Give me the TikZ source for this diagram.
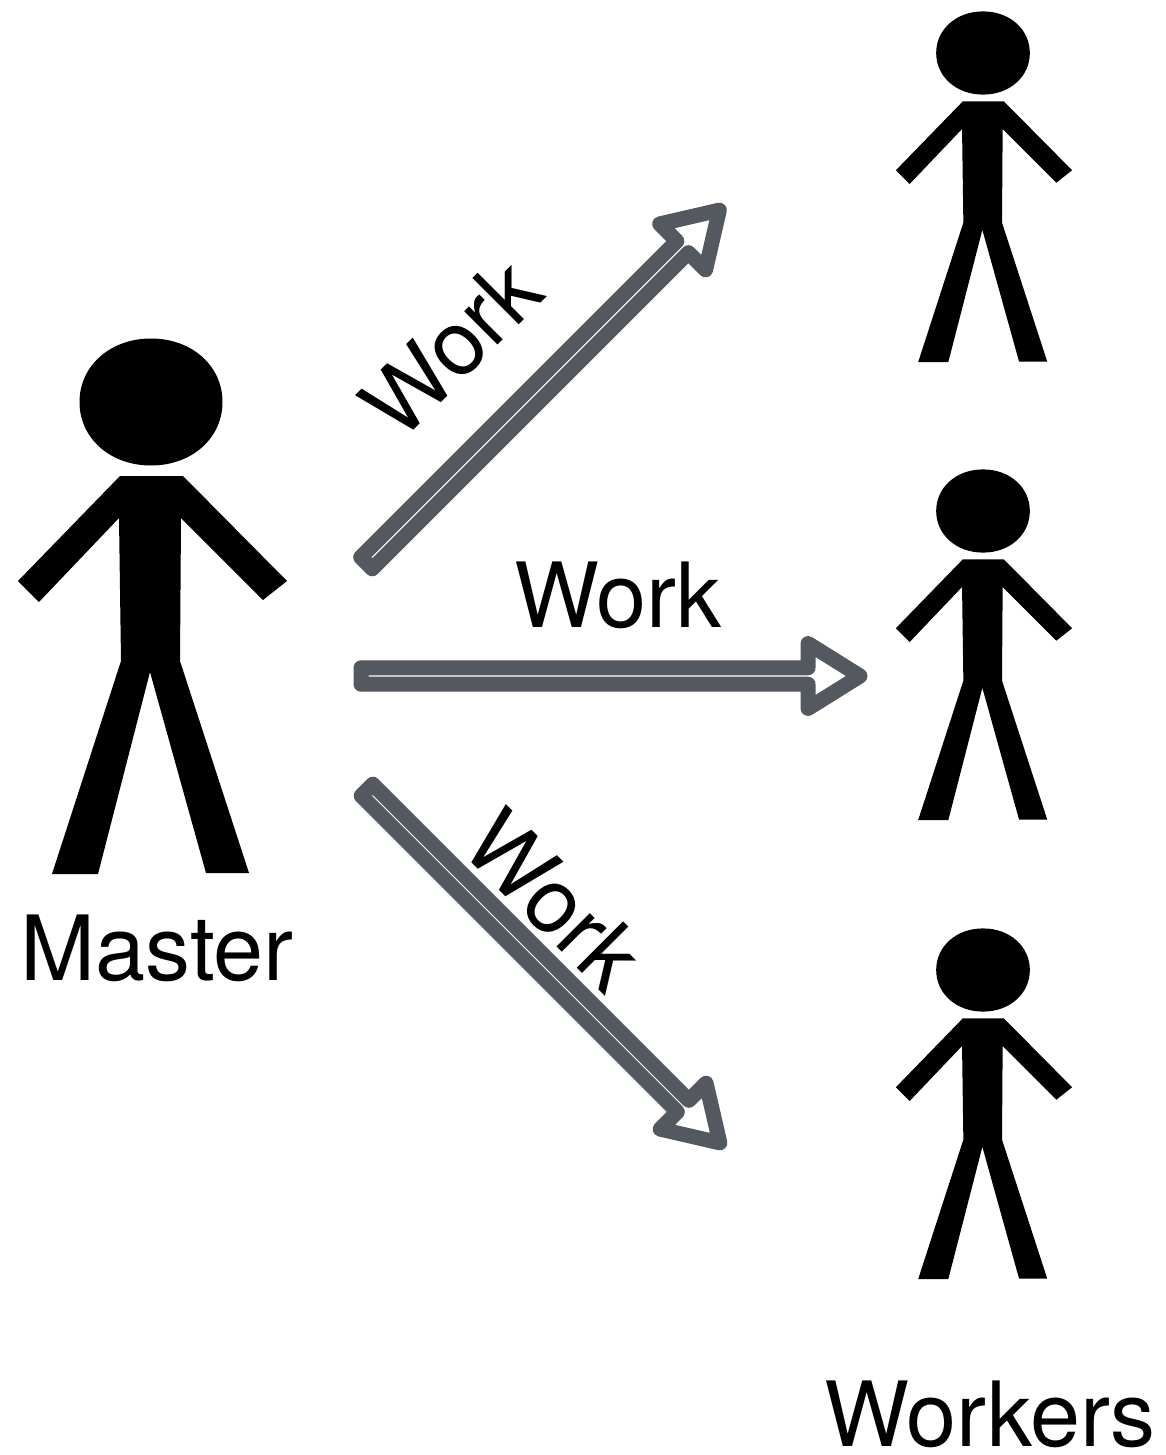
\documentclass[tikz,border=0pt]{standalone}
\usepackage{fontspec}
\setmainfont{TeX Gyre Heros}
\definecolor{arrowgrey}{HTML}{54585F}
\tikzset{
  x=1pt,y=-1pt,
  lbl/.style={font=\fontsize{90}{92}\selectfont,inner sep=0pt,outer sep=0pt,text=black},
  person/.pic={
    \fill[black] (-71.5,0) .. controls (-71.5,-36) and (-41,-63.5) .. (0,-63.5)
      .. controls (41,-63.5) and (71.5,-36) .. (71.5,0)
      .. controls (71.5,36) and (41,63.5) .. (0,63.5)
      .. controls (-41,63.5) and (-71.5,36) .. (-71.5,0) -- cycle;
    \fill[black] (-31,74)--(32,74)--(136,179)--(112,198)--(30,116)--(29,259)--(98,471)--(55,471)--(-1,270)--(-53,472)--(-99,472)--(-30,259)--(-32,116)--(-112,200)--(-133,179)--cycle;
  },
  workarrow/.pic={
    \draw[arrowgrey,line width=15pt,line join=round]
      (0,-8.2)--(447,-8.2)--(447,-32.5)--(499,0)--(447,32.5)--(447,8.2)--(0,8.2)--cycle;
  }
}
\begin{document}
\begin{tikzpicture}
\useasboundingbox (0,0) rectangle (1165,1455);
\fill[white] (0,0) rectangle (1165,1455);
\pic at (151,402) {person};
\pic[scale=.655] at (983,53) {person};
\pic[scale=.655] at (983,511) {person};
\pic[scale=.655] at (983,970) {person};
\pic[rotate=45] at (366.5,563) {workarrow};
\pic at (361,676) {workarrow};
\pic[rotate=-45] at (367,790) {workarrow};
\node[lbl,anchor=base] (master) at (157,980) {Master};
\node[lbl,anchor=base] (workers) at (990,1446) {Workers};
\node[lbl,anchor=base] (work2) at (618,627) {Work};
\node[lbl,rotate=45] (work1) at (451,347) {Work};
\node[lbl,rotate=-45] (work3) at (555,900) {Work};
\end{tikzpicture}
\end{document}
